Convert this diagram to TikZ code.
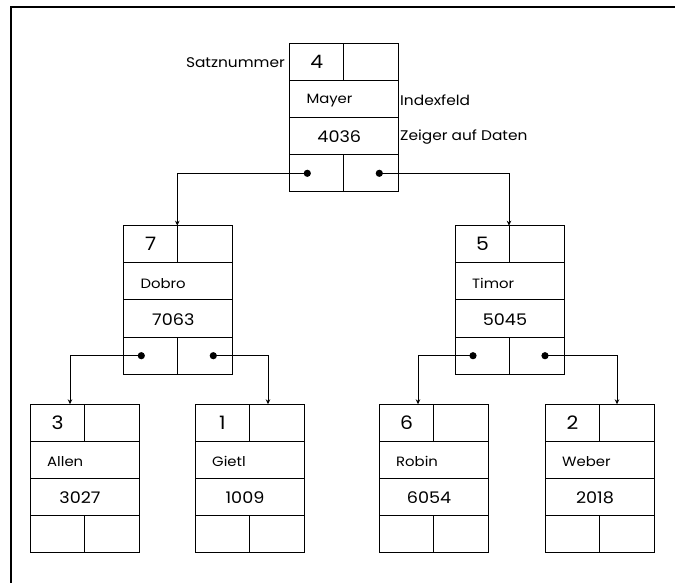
\documentclass[tikz,border=0pt]{standalone}
\usepackage{fontspec}
\setmainfont{Poppins}[FakeStretch=1.1]
\usetikzlibrary{calc,arrows.meta}

\tikzset{
  recbox/.style={draw, line width=1pt, inner sep=0pt, outer sep=0pt,
    minimum width=109pt, minimum height=148.4pt},
  cellline/.style={line width=1pt},
  numtext/.style={font=\fontsize{18.5}{20}\selectfont, inner sep=0pt},
  keytext/.style={font=\fontsize{13.5}{16}\selectfont, inner sep=0pt},
  ptrtext/.style={font=\fontsize{16}{18}\selectfont, inner sep=0pt},
  labeltext/.style={font=\fontsize{14}{16}\selectfont, inner sep=0pt},
  conn/.style={line width=0.8pt, -{Stealth[length=5pt,width=4.5pt]}},
  frameline/.style={line width=2pt},
}

% one index record: number | (free), key, data pointer, left | right child
\newcommand\record[6]{%
  \begin{scope}[shift={(#2,#3)}]
    \node[recbox, anchor=north west] (#1) at (0,0) {};
    \draw[cellline] (0,37.1) -- (109,37.1) (0,74.2) -- (109,74.2)
      (0,111.3) -- (109,111.3)
      (54.5,0) -- (54.5,37.1) (54.5,111.3) -- (54.5,148.4);
    \node[numtext] (#1n) at (27.5,18.5) {#4};
    \node[keytext, anchor=west] (#1k) at (17,57.5) {#5};
    \node[ptrtext] (#1p) at (50,93.5) {#6};
    \coordinate (#1L) at (18,130);
    \coordinate (#1R) at (90,130);
  \end{scope}}

\begin{document}
\begin{tikzpicture}[x=1pt,y=-1pt]
  \useasboundingbox (0,0) rectangle (675,583);
  \coordinate (fA) at (10.5,583);
  \coordinate (fB) at (10.5,7);
  \coordinate (fC) at (675,7);
  \draw[frameline] (fA) -- (fB) -- (fC);

  \record{r4}{289.3}{43.3}{4}{Mayer}{4036}
  \record{r7}{123.3}{225.7}{7}{Dobro}{7063}
  \record{r5}{455}{225.7}{5}{Timor}{5045}
  \record{r3}{30}{404.3}{3}{Allen}{3027}
  \record{r1}{195}{404.3}{1}{Gietl}{1009}
  \record{r6}{379}{404.3}{6}{Robin}{6054}
  \record{r2}{545}{404.3}{2}{Weber}{2018}

  \node[labeltext, anchor=east] (lsatz) at (285,63) {Satznummer};
  \node[labeltext, anchor=west] (lindex) at (400,100.5) {Indexfeld};
  \node[labeltext, anchor=west] (lzeiger) at (400,137) {Zeiger auf Daten};

  \foreach \r in {r4,r7,r5} {
    \fill (\r L) circle[radius=3.6pt];
    \fill (\r R) circle[radius=3.6pt];
  }

  \draw[conn] (r4L) -| ($(r7.north west)+(54,0)$);
  \draw[conn] (r4R) -| ($(r5.north west)+(54,0)$);
  \draw[conn] (r7L) -| ($(r3.north west)+(40,0)$);
  \draw[conn] (r7R) -| ($(r1.north west)+(73,0)$);
  \draw[conn] (r5L) -| ($(r6.north west)+(39,0)$);
  \draw[conn] (r5R) -| ($(r2.north west)+(72,0)$);
\end{tikzpicture}
\end{document}
